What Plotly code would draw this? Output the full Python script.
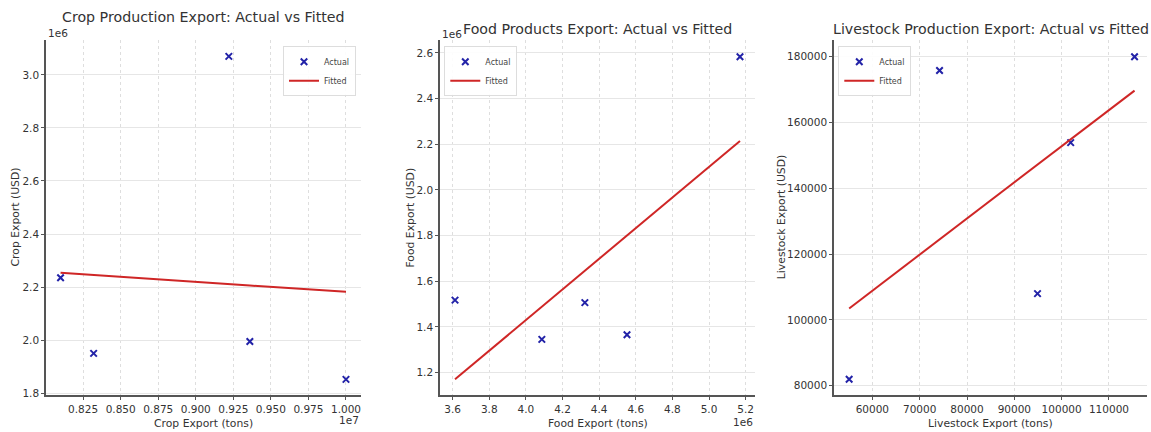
import numpy as np
import plotly.graph_objects as go

W, H = 1151, 432

# ---- data ----
crop_tons = [8.10e6, 8.32e6, 9.22e6, 9.36e6, 10.00e6]
crop_usd = [2.235e6, 1.950e6, 3.070e6, 1.995e6, 1.852e6]
crop_fit = [2.254e6, 2.246e6, 2.212e6, 2.206e6, 2.182e6]

food_tons = [3.613e6, 4.087e6, 4.322e6, 4.552e6, 5.169e6]
food_usd = [1.517e6, 1.345e6, 1.506e6, 1.365e6, 2.583e6]
food_fit = [1.170e6, 1.488e6, 1.645e6, 1.800e6, 2.214e6]

live_tons = [55100, 74200, 94900, 101900, 115400]
live_usd = [82000, 175800, 108000, 153900, 180000]
live_fit = [103500, 124400, 147200, 154800, 169700]

titles = [
    "Crop Production Export: Actual vs Fitted",
    "Food Products Export: Actual vs Fitted",
    "Livestock Production Export: Actual vs Fitted",
]
x_titles = ["Crop Export (tons)", "Food Export (tons)", "Livestock Export (tons)"]
y_titles = ["Crop Export (USD)", "Food Export (USD)", "Livestock Export (USD)"]

FONT = "DejaVu Sans"
TXT = "#333333"
BLUE = "#2323a8"
RED = "#cf2626"


def px_x(p):
    return p / W


def px_y(p):
    return 1 - p / H


# axes boxes in pixels: (left, right)
boxes = [(46, 361), (440, 755), (834, 1147)]
top_px, bot_px = 40, 399

panels = [
    (np.array(crop_tons) / 1e7, np.array(crop_usd) / 1e6, np.array(crop_fit) / 1e6),
    (np.array(food_tons) / 1e6, np.array(food_usd) / 1e6, np.array(food_fit) / 1e6),
    (np.array(live_tons), np.array(live_usd), np.array(live_fit)),
]

x_ranges = [[0.8003, 1.0100], [3.531, 5.251], [51900, 118030]]
y_ranges = [[1.792, 3.133], [1.100, 2.658], [77100, 185200]]
x_ticks = [np.arange(0.825, 1.0001, 0.025), np.arange(3.6, 5.2001, 0.2),
           np.arange(60000, 110001, 10000)]
y_ticks = [np.arange(1.8, 3.0001, 0.2), np.arange(1.2, 2.6001, 0.2),
           np.arange(80000, 180001, 20000)]
x_fmt = [".3f", ".1f", "d"]
y_fmt = [".1f", ".1f", "d"]

# legend anchor (px) and horizontal anchor side
legend_pos = [(356, 46.7, "right"), (444.3, 46.7, "left"), (838.3, 46.7, "left")]

fig = go.Figure()
layout = dict(
    width=W, height=H,
    margin=dict(l=0, r=0, t=0, b=0),
    paper_bgcolor="white", plot_bgcolor="white",
    font=dict(family=FONT, color=TXT),
    showlegend=True,
)

annotations = []
for i, (xs, ys, fit) in enumerate(panels):
    n = "" if i == 0 else str(i + 1)
    leg = "legend" if i == 0 else f"legend{i + 1}"
    fig.add_trace(go.Scatter(
        x=xs, y=ys, mode="markers", name="Actual",
        marker=dict(symbol="x-thin", size=6.5, color=BLUE,
                    line=dict(width=2, color=BLUE)),
        xaxis=f"x{n}", yaxis=f"y{n}", legend=leg,
    ))
    fig.add_trace(go.Scatter(
        x=xs, y=fit, mode="lines", name="Fitted",
        line=dict(color=RED, width=2),
        xaxis=f"x{n}", yaxis=f"y{n}", legend=leg,
    ))
    l, r = boxes[i]
    common = dict(
        showline=True, linecolor="#555555", linewidth=1.5,
        ticks="outside", ticklen=3, tickcolor="#555555", tickwidth=1,
        tickfont=dict(size=10.5, color=TXT, family=FONT),
        zeroline=False, mirror=False,
    )
    layout[f"xaxis{n}"] = dict(
        domain=[px_x(l), px_x(r)], anchor=f"y{n}", range=x_ranges[i],
        tickvals=list(x_ticks[i]), tickformat=x_fmt[i],
        showgrid=True, gridcolor="#dedede", griddash="dot", gridwidth=1,
        **common,
    )
    layout[f"yaxis{n}"] = dict(
        domain=[px_y(bot_px), px_y(top_px)], anchor=f"x{n}", range=y_ranges[i],
        tickvals=list(y_ticks[i]), tickformat=y_fmt[i],
        showgrid=True, gridcolor="#e6e6e6", gridwidth=1,
        **common,
    )
    lx, ly, side = legend_pos[i]
    layout[leg] = dict(
        x=px_x(lx), y=px_y(ly), xanchor=side, yanchor="top",
        bgcolor="rgba(255,255,255,0.9)", bordercolor="#dddddd", borderwidth=1,
        font=dict(size=8, color="#444444", family=FONT),
        itemwidth=30, tracegroupgap=0,
    )

    cx = (l + r) / 2
    # panel title
    ty = 16.7 if i == 0 else 29.3
    annotations.append(dict(
        text=titles[i], x=px_x(cx), y=px_y(ty), xref="paper", yref="paper",
        xanchor="center", yanchor="middle", showarrow=False,
        font=dict(size=14.2, color=TXT, family=FONT),
    ))
    # x axis title
    annotations.append(dict(
        text=x_titles[i], x=px_x(cx), y=px_y(427), xref="paper", yref="paper",
        xanchor="center", yanchor="middle", showarrow=False,
        font=dict(size=10.8, color=TXT, family=FONT),
    ))

# y axis titles
for ytxt, xp in zip(y_titles, [15, 410, 781.7]):
    annotations.append(dict(
        text=ytxt, x=px_x(xp), y=px_y((top_px + bot_px) / 2),
        xref="paper", yref="paper", xanchor="center", yanchor="middle",
        textangle=-90, showarrow=False,
        font=dict(size=10.8, color=TXT, family=FONT),
    ))

# scientific offset labels
offsets = [
    ("1e6", 46, 33.5, "left"),
    ("1e7", 361, 424, "right"),
    ("1e6", 440, 34.3, "left"),
    ("1e6", 755, 426, "right"),
]
for txt, xp, yp, anchor in offsets:
    annotations.append(dict(
        text=txt, x=px_x(xp), y=px_y(yp), xref="paper", yref="paper",
        xanchor=anchor, yanchor="middle", showarrow=False,
        font=dict(size=10.5, color=TXT, family=FONT),
    ))

layout["annotations"] = annotations
fig.update_layout(**layout)
fig.write_html("out.html")
